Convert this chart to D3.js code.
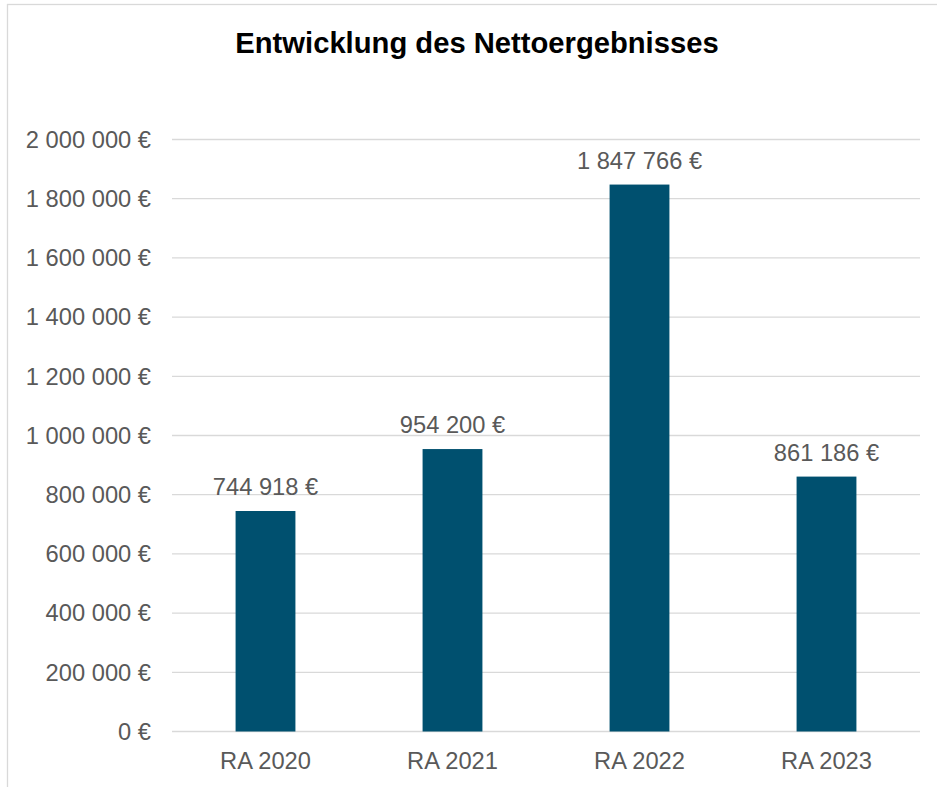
<!DOCTYPE html>
<html>
<head>
<meta charset="utf-8">
<script src="https://cdn.jsdelivr.net/npm/d3@7"></script>
<style>
  body { margin: 0; background: #fff; }
  svg text { font-family: "Liberation Sans", Arial, sans-serif; }
</style>
</head>
<body>
<svg></svg>
<script>
const categories = ["RA 2020", "RA 2021", "RA 2022", "RA 2023"];
const values = [744918, 954200, 1847766, 861186];
const yTicks = [0, 200000, 400000, 600000, 800000, 1000000, 1200000, 1400000, 1600000, 1800000, 2000000];
const title = "Entwicklung des Nettoergebnisses";

const width = 937, height = 787;
const barColor = "#00506f";
const textColor = "#595959";
const gridColor = "#d9d9d9";

const svg = d3.select("svg")
  .attr("width", width)
  .attr("height", height);

// German style: non-breaking space as thousands separator, euro suffix
const locale = d3.formatLocale({
  decimal: ",",
  thousands: "\u00a0",
  grouping: [3],
  currency: ["", "\u00a0€"]
});
const fmt = locale.format("$,");

// chart area border (runs off the right and bottom edges)
svg.append("rect")
  .attr("x", 7.5)
  .attr("y", 4.5)
  .attr("width", 1000)
  .attr("height", 1000)
  .attr("fill", "none")
  .attr("stroke", gridColor)
  .attr("stroke-width", 1.3);

let x = d3.scaleBand()
  .domain(categories)
  .range([172, 920])
  .paddingInner(0.68)
  .paddingOuter(0.34);

let y = d3.scaleLinear()
  .domain([0, 2000000])
  .range([731.5, 139.5]);

// gridlines
svg.append("g")
  .selectAll("line")
  .data(yTicks)
  .enter()
  .append("line")
  .attr("x1", 172)
  .attr("x2", 920)
  .attr("y1", d => y(d))
  .attr("y2", d => y(d))
  .attr("stroke", gridColor)
  .attr("stroke-width", 1.3);

// y axis labels
svg.append("g")
  .selectAll("text")
  .data(yTicks)
  .enter()
  .append("text")
  .attr("x", 151)
  .attr("y", d => y(d))
  .attr("dy", "0.35em")
  .attr("text-anchor", "end")
  .attr("font-size", "23.7px")
  .attr("fill", textColor)
  .text(d => fmt(d));

// bars
svg.append("g")
  .selectAll("rect")
  .data(values)
  .enter()
  .append("rect")
  .attr("x", (d, i) => x(categories[i]))
  .attr("y", d => y(d))
  .attr("width", x.bandwidth())
  .attr("height", d => y(0) - y(d))
  .attr("fill", barColor);

// value labels
svg.append("g")
  .selectAll("text")
  .data(values)
  .enter()
  .append("text")
  .attr("x", (d, i) => x(categories[i]) + x.bandwidth() / 2)
  .attr("y", d => y(d) - 16)
  .attr("text-anchor", "middle")
  .attr("font-size", "23.7px")
  .attr("fill", textColor)
  .text(d => fmt(d));

// x axis labels
svg.append("g")
  .selectAll("text")
  .data(categories)
  .enter()
  .append("text")
  .attr("x", d => x(d) + x.bandwidth() / 2)
  .attr("y", 769)
  .attr("text-anchor", "middle")
  .attr("font-size", "23.7px")
  .attr("fill", textColor)
  .text(d => d);

// title
svg.append("text")
  .attr("x", 477)
  .attr("y", 53)
  .attr("text-anchor", "middle")
  .attr("font-size", "29.2px")
  .attr("font-weight", "bold")
  .attr("fill", "#000")
  .text(title);
</script>
</body>
</html>
